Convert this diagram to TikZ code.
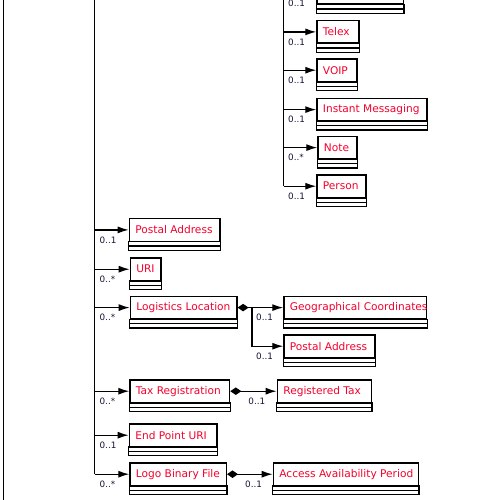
\documentclass[tikz,border=0pt]{standalone}
\usepackage{fontspec}
\setmainfont{DejaVu Sans}
\usetikzlibrary{arrows.meta}
\definecolor{classname}{RGB}{245,0,45}
\definecolor{multiplicity}{RGB}{20,20,55}
\tikzset{
  wire/.style={line width=1.3pt, black},
  assoc/.style={wire, -{Latex[length=11pt,width=7pt]}},
  owner/.style={wire, {Diamond[length=11pt,width=7.5pt]}-},
  ownerassoc/.style={wire, {Diamond[length=11pt,width=7.5pt]}-{Latex[length=11pt,width=7pt]}},
  classbox/.style={draw, line width=1.3pt, anchor=north west, minimum height=22.5pt,
    inner xsep=6pt, inner ysep=0pt, text=classname, font=\fontsize{10.6}{12}\selectfont},
  mult/.style={anchor=west, inner sep=0pt, text=multiplicity, font=\fontsize{8.8}{10}\selectfont},
}
% class box: name compartment plus two empty compartments below
\newcommand{\umlclass}[5]{%
  \node[classbox] (#1) at (#2,#3) {\makebox[\dimexpr#4pt-12pt\relax][l]{#5}};
  \draw[wire] (#1.south west) rectangle ([yshift=-8.5pt]#1.south east);
  \draw[wire] ([yshift=-4.3pt]#1.south west) -- ([yshift=-4.3pt]#1.south east);
}
\begin{document}
\begin{tikzpicture}[x=1pt,y=-1pt]
\useasboundingbox (0,0) rectangle (500,500);
\clip (0,0) rectangle (500,500);
\fill[white] (0,0) rectangle (500,500);

% vertical rails
\coordinate (railTop) at (3.5,-20);
\coordinate (railBot) at (3.5,520);
\coordinate (trunkB) at (94.5,-20);
\coordinate (trunkC) at (283.5,-40);

% contact channels
\umlclass{partial}{316.3}{-19}{86.4}{}
\umlclass{telex}{316.3}{20}{42}{Telex}
\umlclass{voip}{316.3}{58.3}{40}{VOIP}
\umlclass{im}{316.3}{97.7}{110}{Instant Messaging}
\umlclass{note}{317.3}{135.7}{39}{Note}
\umlclass{person}{316.3}{174.3}{49}{Person}

% main members
\umlclass{postal}{128.7}{218}{90.6}{Postal Address}
\umlclass{uri}{129.7}{257.3}{30.6}{URI}
\umlclass{logistics}{129.7}{295.7}{106.6}{Logistics Location}
\umlclass{geo}{283.3}{295.7}{142.7}{Geographical Coordinates}
\umlclass{postalB}{283.3}{334.3}{91}{Postal Address}
\umlclass{tax}{129.3}{379.3}{99.7}{Tax Registration}
\umlclass{regtax}{276.7}{379.3}{94}{Registered Tax}
\umlclass{endpoint}{128.7}{423.3}{87.6}{End Point URI}
\umlclass{logo}{129.3}{462.3}{96.4}{Logo Binary File}
\umlclass{access}{272.7}{462.3}{145}{Access Availability Period}

% rails
\draw[wire] (railTop) -- (railBot);
\draw[wire] (trunkB) -- (trunkB |- logo.west);
\draw[wire] (trunkC) -- (trunkC |- person.west);

% associations from the channel rail
\foreach \n/\m in {partial/0..1, telex/0..1, voip/0..1, im/0..1, note/0..*, person/0..1}{
  \draw[assoc] (trunkC |- \n.west) -- (\n.west)
    node[mult, pos=0, xshift=4pt, yshift=-10pt] {\m};
}

% associations from the main rail
\foreach \n/\m in {postal/0..1, uri/0..*, logistics/0..*, tax/0..*, endpoint/0..1, logo/0..*}{
  \draw[assoc] (trunkB |- \n.west) -- (\n.west)
    node[mult, pos=0, xshift=4.5pt, yshift=-10pt] {\m};
}

% compositions
\coordinate (llJoin) at ([xshift=14.4pt]logistics.east);
\draw[owner] (logistics.east) -- (llJoin);
\draw[assoc] (llJoin) -- (geo.west)
  node[mult, pos=0, xshift=3.5pt, yshift=-10pt] {0..1};
\draw[assoc] (llJoin) |- (postalB.west)
  node[mult, pos=0.5, xshift=3.5pt, yshift=-10pt] {0..1};

\draw[ownerassoc] (tax.east) -- (regtax.west)
  node[mult, pos=0, xshift=17.5pt, yshift=-10pt] {0..1};
\draw[ownerassoc] (logo.east) -- (access.west)
  node[mult, pos=0, xshift=17.5pt, yshift=-10pt] {0..1};
\end{tikzpicture}
\end{document}
